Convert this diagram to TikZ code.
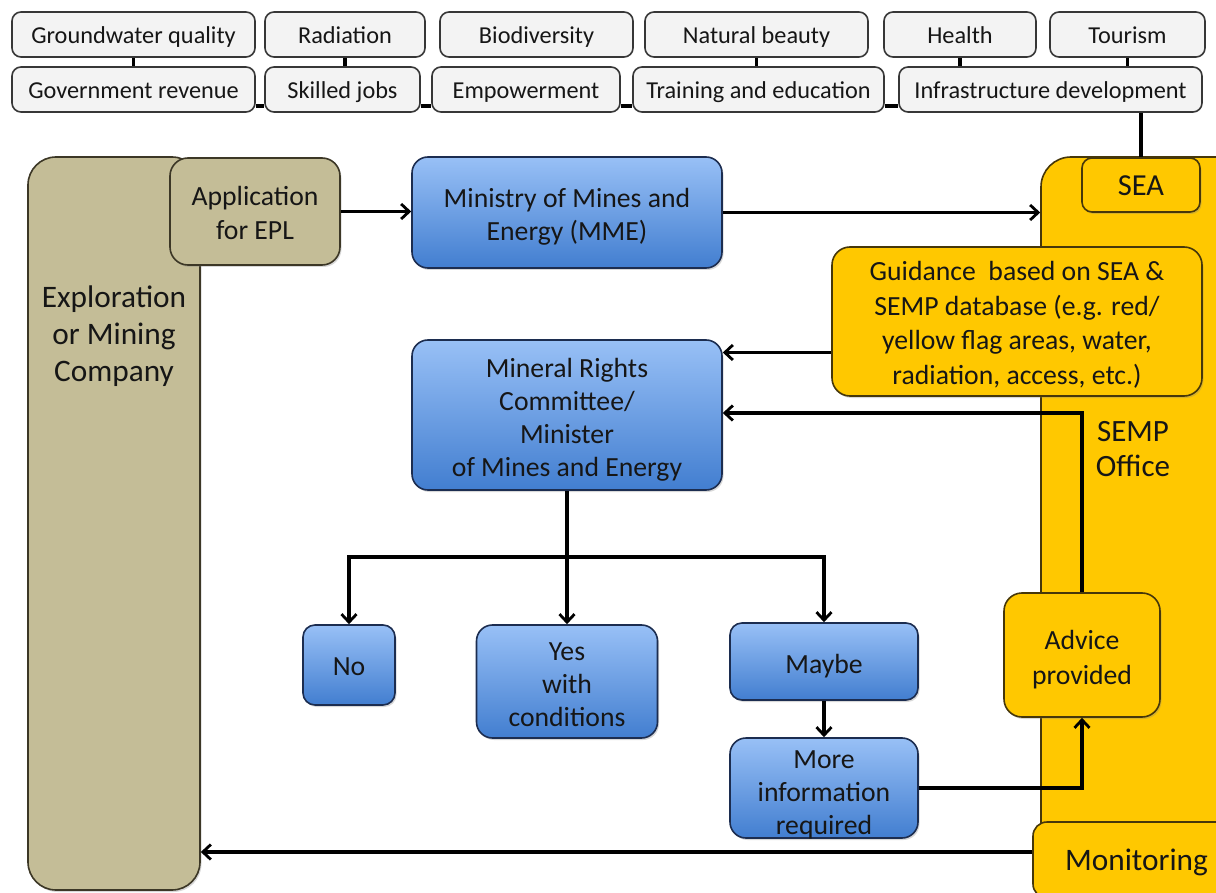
\documentclass[tikz,border=0pt]{standalone}
\usepackage{fontspec}
\setmainfont{Carlito}
\usetikzlibrary{arrows.meta,shadows,calc}

\definecolor{tanfill}{RGB}{196,189,151}
\definecolor{tanline}{RGB}{60,55,38}
\definecolor{gold}{RGB}{255,200,0}
\definecolor{goldline}{RGB}{70,55,10}
\definecolor{bluetop}{RGB}{152,192,246}
\definecolor{bluebot}{RGB}{66,126,208}
\definecolor{blueline}{RGB}{28,45,80}
\definecolor{topfill}{RGB}{243,243,243}
\definecolor{topline}{RGB}{55,55,55}
\definecolor{ink}{RGB}{22,22,22}

\newcommand\fsz[2]{\fontsize{#1}{#2}\selectfont}
% centred block of lines, lowered a little inside its box
\newcommand\lowr[2][5pt]{\raisebox{-#1}[\height][\depth]{\begin{tabular}{@{}c@{}}#2\end{tabular}}}

\begin{document}
\begin{tikzpicture}[x=1pt,y=-1pt,
  box/.style={draw, line width=1.6pt, inner sep=0pt, text=ink},
  shade/.style={drop shadow={shadow xshift=1.5pt, shadow yshift=-2pt, opacity=0.3}},
  topbox/.style={box, rounded corners=9pt, fill=topfill, draw=topline,
    minimum height=45pt, font=\fsz{24.3}{29}},
  bluebox/.style={box, shade, rounded corners=16pt, draw=blueline,
    top color=bluetop, bottom color=bluebot, font=\fsz{27.7}{33}},
  tanbox/.style={box, shade, rounded corners=18pt, draw=tanline, fill=tanfill,
    font=\fsz{27.7}{34}},
  goldbox/.style={box, shade, rounded corners=18pt, draw=goldline, fill=gold,
    font=\fsz{27.7}{34.5}},
  link/.style={line width=3.6pt, draw=black},
  arr/.style={line width=3.2pt, draw=black,
    -{Straight Barb[length=8pt,width=15pt,line width=2.8pt]}},
  wire/.style={line width=3.2pt, draw=black}
]
\useasboundingbox (0,0) rectangle (1216,893);
\clip (0,0) rectangle (1216,893);
\fill[white] (0,0) rectangle (1216,893);

% ---- impact themes, upper row
\node[topbox, minimum width=243pt] (gw)  at (133.5,34.5) {\lowr[3pt]{Groundwater quality}};
\node[topbox, minimum width=160pt] (rad) at (345,34.5)   {\lowr[3pt]{Radiation}};
\node[topbox, minimum width=193pt] (bio) at (536.5,34.5) {\lowr[3pt]{Biodiversity}};
\node[topbox, minimum width=223pt] (nat) at (756.5,34.5) {\lowr[3pt]{Natural beauty}};
\node[topbox, minimum width=152pt] (hea) at (960,34.5)   {\lowr[3pt]{Health}};
\node[topbox, minimum width=155pt] (tou) at (1127.5,34.5) {\lowr[3pt]{Tourism}};

% ---- impact themes, lower row
\node[topbox, minimum width=243pt] (gov) at (133.5,89.5) {\lowr[3pt]{Government revenue}};
\node[topbox, minimum width=155pt] (ski) at (342.5,89.5) {\lowr[3pt]{Skilled jobs}};
\node[topbox, minimum width=188pt] (emp) at (526,89.5)   {\lowr[3pt]{Empowerment}};
\node[topbox, minimum width=251pt] (tra) at (758.5,89.5) {\lowr[3pt]{Training and education}};
\node[topbox, minimum width=303pt] (inf) at (1050.5,89.5) {\lowr[3pt]{Infrastructure development}};

% links between the theme boxes
\draw[link] (gw.south) -- (gw.south |- gov.north);
\draw[link] (rad.south) -- (rad.south |- ski.north);
\draw[link] (nat.south) -- (nat.south |- tra.north);
\draw[link] (hea.south) -- (hea.south |- inf.north);
\draw[link] (tou.south) -- (tou.south |- inf.north);
\draw[link] ([yshift=7pt]gov.south east) -- ([yshift=7pt]gov.south east -| ski.west);
\draw[link] ([yshift=7pt]ski.south east) -- ([yshift=7pt]ski.south east -| emp.west);
\draw[link] ([yshift=7pt]emp.south east) -- ([yshift=7pt]emp.south east -| tra.west);
\draw[link] ([yshift=7pt]tra.south east) -- ([yshift=7pt]tra.south east -| inf.west);

% ---- company column
\node[tanbox, rounded corners=28pt, minimum width=172pt, minimum height=733pt] (comp) at (114,523.5) {};
\node[font=\fsz{31.3}{37}, text=ink, inner sep=0pt] (complbl) at (114,334)
  {\lowr[3pt]{Exploration\\or Mining\\Company}};
\node[tanbox, minimum width=170pt, minimum height=107pt] (app) at (255,211.5) {\lowr[4pt]{Application\\for EPL}};

% ---- SEMP office column
\node[goldbox, rounded corners=30pt, minimum width=209pt, minimum height=748pt] (semp) at (1145.5,531) {};
\node[font=\fsz{31}{35}, text=ink, inner sep=0pt] (semplbl) at (1133,450) {\lowr[1.5pt]{SEMP\\Office}};
\node[goldbox, rounded corners=10pt, minimum width=118pt, minimum height=54pt, font=\fsz{30.5}{36}] (sea) at (1141,185) {\lowr[3pt]{SEA}};
\node[goldbox, minimum width=370pt, minimum height=149pt] (gui) at (1017,321.5)
  {\lowr[4pt]{Guidance~ based on SEA \&\\SEMP database (e.g. red/\\yellow flag areas, water,\\radiation, access, etc.)}};
\node[goldbox, minimum width=156pt, minimum height=124pt] (adv) at (1082,655) {\lowr[5pt]{Advice\\provided}};
\node[goldbox, rounded corners=14pt, minimum width=207pt, minimum height=76pt, font=\fsz{31.3}{37}] (mon) at (1136.5,860) {\lowr[3pt]{Monitoring}};

% ---- ministry
\node[bluebox, minimum width=310pt, minimum height=111pt] (mme) at (567,212.5) {\lowr{Ministry of Mines and\\Energy (MME)}};
\node[bluebox, minimum width=310pt, minimum height=150pt] (mrc) at (567,415)
  {\lowr[5.5pt]{Mineral Rights\\Committee/\\Minister\\of Mines and Energy}};
\node[bluebox, rounded corners=12pt, minimum width=92pt, minimum height=80pt] (no) at (349,665) {\lowr[4pt]{No}};
\node[bluebox, minimum width=181pt, minimum height=113pt] (yes) at (567,681.5) {\lowr{Yes\\with\\conditions}};
\node[bluebox, rounded corners=12pt, minimum width=188pt, minimum height=77pt] (may) at (824,661.5) {\lowr{Maybe}};
\node[bluebox, minimum width=188pt, minimum height=100pt] (more) at (824,788) {\lowr[7pt]{More\\information\\required}};

% ---- connectors
\draw[link] (sea.north |- inf.south) -- (sea.north);
\draw[arr] (app.east) -- (app.east -| mme.west);
\draw[arr] (mme.east) -- (mme.east -| semp.west);
\draw[arr] ([yshift=-31pt]gui.west) -- ([yshift=-31pt]gui.west -| mrc.east);
\draw[arr] (adv.north) |- ([yshift=2pt]mrc.east);
\coordinate (split) at (567,557);
\draw[wire] (mrc.south) -- (split);
\draw[arr] (split) -| (no.north);
\draw[arr] (split) -- (yes.north);
\draw[arr] (split) -| (may.north);
\draw[arr] (may.south) -- (more.north);
\draw[arr] (more.east) -| (adv.south);
\draw[arr] ([yshift=8pt]mon.west) -- ([yshift=8pt]mon.west -| comp.east);
\end{tikzpicture}
\end{document}
